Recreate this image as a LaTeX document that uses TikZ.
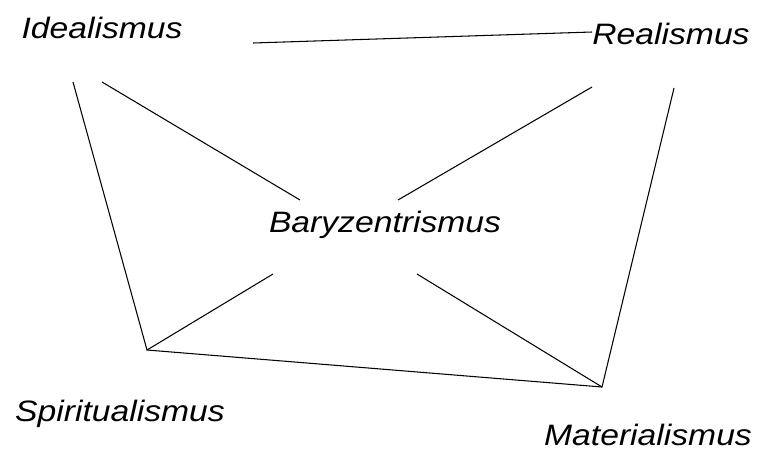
\documentclass[tikz,border=0pt]{standalone}
\usepackage{fontspec}
\setmainfont{Liberation Sans}
\usetikzlibrary{positioning}
\tikzset{
  ism/.style={font=\itshape\fontsize{21}{25}\selectfont,inner sep=0pt,anchor=base,xscale=1.14},
  tie/.style={line width=0.75pt}
}
\begin{document}
\begin{tikzpicture}[x=0.025cm,y=-0.025cm]
\useasboundingbox (0,0) rectangle (760,449);
% labels
\node[ism] (I) at (102,38) {Idealismus};
\node[ism] (R) at (671,44) {Realismus};
\node[ism] (B) at (385,232) {Baryzentrismus};
\node[ism] (S) at (120,421) {Spiritualismus};
\node[ism] (M) at (648,445) {Materialismus};
% line ends
\coordinate (Ia) at (73,82);
\coordinate (Ib) at (102,82);
\coordinate (Ic) at (253,43);
\coordinate (Ra) at (592,32);
\coordinate (Rb) at (592,87);
\coordinate (Rc) at (674,88);
\coordinate (Bnw) at (300,200);
\coordinate (Bne) at (398,200);
\coordinate (Bsw) at (273,274);
\coordinate (Bse) at (417,274);
\coordinate (Sv) at (147,350);
\coordinate (Mv) at (602,387);
% connectors
\draw[tie] (Ic) -- (Ra);
\draw[tie] (Ia) -- (Sv) -- (Mv) -- (Rc);
\draw[tie] (Ib) -- (Bnw);
\draw[tie] (Rb) -- (Bne);
\draw[tie] (Bsw) -- (Sv);
\draw[tie] (Bse) -- (Mv);
\end{tikzpicture}
\end{document}
